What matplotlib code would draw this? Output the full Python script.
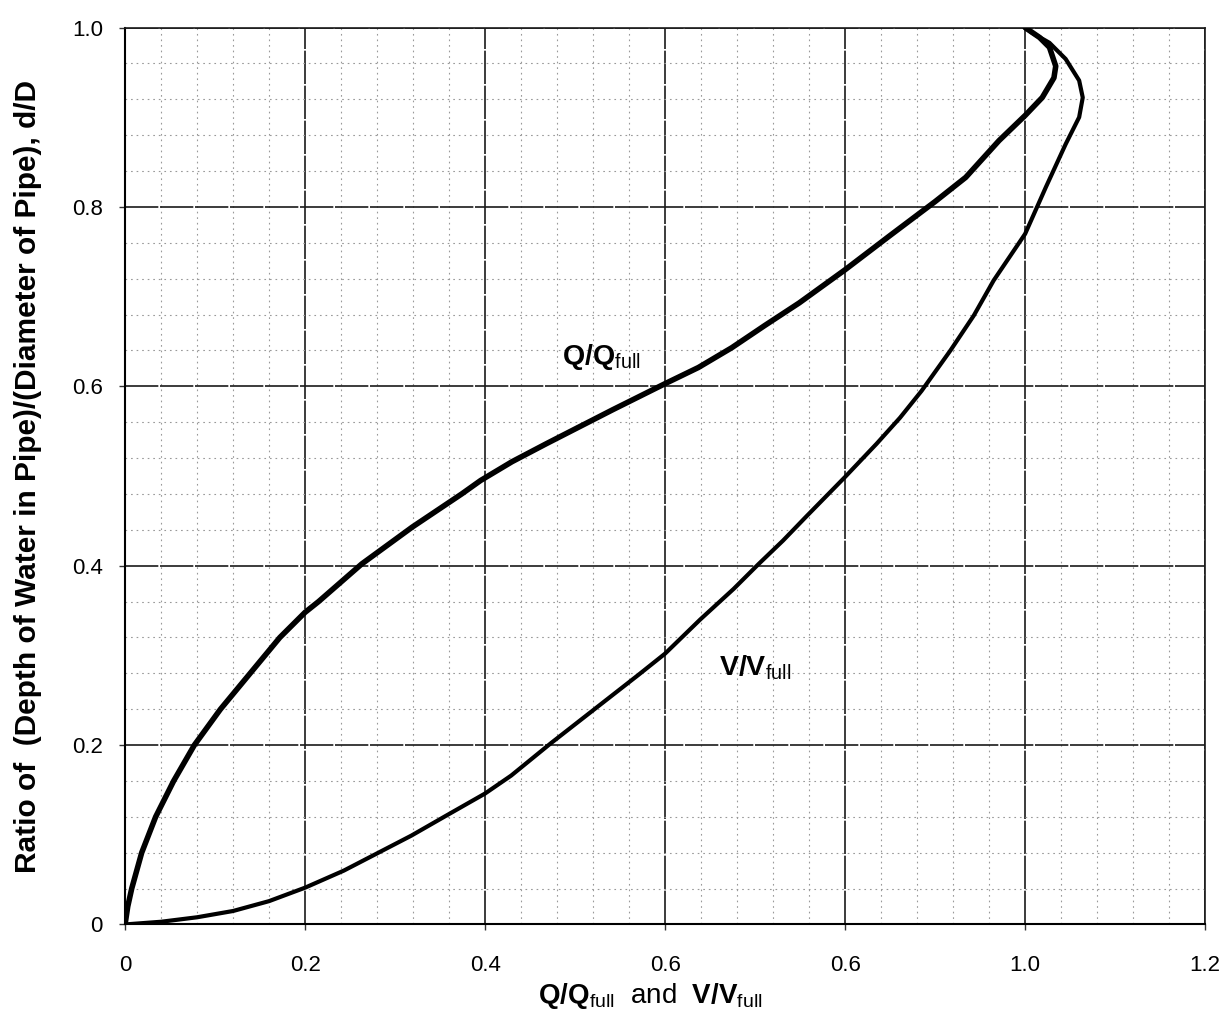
import matplotlib
matplotlib.use("Agg")
import matplotlib.pyplot as plt
from matplotlib.ticker import MultipleLocator

plt.rcParams['font.family'] = ['Liberation Sans', 'DejaVu Sans']
plt.rcParams['mathtext.fontset'] = 'custom'
plt.rcParams['mathtext.rm'] = 'Liberation Sans'
plt.rcParams['mathtext.bf'] = 'Liberation Sans:bold'

# Q/Qfull curve (x) against d/D (y)
q_ratio = [0.0, 0.003, 0.0074, 0.0185, 0.034, 0.054, 0.077, 0.106, 0.139, 0.172,
           0.2, 0.215, 0.263, 0.319, 0.374, 0.395, 0.43, 0.468, 0.505, 0.542,
           0.6, 0.637, 0.674, 0.711, 0.749, 0.8, 0.851, 0.9, 0.934, 0.971,
           1.0, 1.019, 1.032, 1.034, 1.027, 1.016, 1.0]
q_depth = [0.0, 0.02, 0.04, 0.08, 0.12, 0.16, 0.2, 0.24, 0.28, 0.32,
           0.348, 0.36, 0.402, 0.443, 0.48, 0.495, 0.516, 0.536, 0.555, 0.574,
           0.603, 0.621, 0.643, 0.668, 0.693, 0.73, 0.769, 0.806, 0.833, 0.874,
           0.902, 0.922, 0.944, 0.957, 0.978, 0.989, 1.0]

# V/Vfull curve
v_ratio = [0.0, 0.04, 0.08, 0.12, 0.16, 0.2, 0.243, 0.318, 0.358, 0.4,
           0.429, 0.473, 0.57, 0.6, 0.639, 0.676, 0.704, 0.731, 0.757, 0.8,
           0.835, 0.861, 0.885, 0.917, 0.943, 0.965, 1.0, 1.023, 1.045, 1.06,
           1.064, 1.06, 1.045, 1.027, 1.008, 1.0]
v_depth = [0.0, 0.003, 0.008, 0.015, 0.026, 0.041, 0.06, 0.099, 0.122, 0.146,
           0.166, 0.202, 0.278, 0.302, 0.34, 0.374, 0.402, 0.428, 0.455, 0.499,
           0.536, 0.565, 0.595, 0.64, 0.679, 0.718, 0.77, 0.822, 0.87, 0.9,
           0.922, 0.941, 0.965, 0.983, 0.994, 1.0]

x_ticks = [0, 0.2, 0.4, 0.6, 0.8, 1.0, 1.2]
x_tick_labels = ['0', '0.2', '0.4', '0.6', '0.6', '1.0', '1.2']
y_ticks = [0, 0.2, 0.4, 0.6, 0.8, 1.0]
y_tick_labels = ['0', '0.2', '0.4', '0.6', '0.8', '1.0']

fig = plt.figure(figsize=(12.26, 10.10), dpi=100)
ax = fig.add_axes([0.102, 0.0847, 0.881, 0.888])

ax.plot(q_ratio, q_depth, color='black', lw=4.0, solid_capstyle='round',
        solid_joinstyle='round', zorder=5)
ax.plot(v_ratio, v_depth, color='black', lw=3.0, solid_capstyle='round',
        solid_joinstyle='round', zorder=5)

ax.set_xlim(0, 1.2)
ax.set_ylim(0, 1.0)
ax.set_xticks(x_ticks)
ax.set_xticklabels(x_tick_labels)
ax.set_yticks(y_ticks)
ax.set_yticklabels(y_tick_labels)
ax.xaxis.set_minor_locator(MultipleLocator(0.04))
ax.yaxis.set_minor_locator(MultipleLocator(0.04))

ax.grid(which='major', color='#1a1a1a', lw=1.2, ls=(0, (20, 1.0)))
ax.grid(which='minor', color='#999999', lw=0.8, ls=(0, (1.5, 3.5)))
ax.set_axisbelow(True)

for side in ['left', 'bottom']:
    ax.spines[side].set_linewidth(1.5)
for side in ['top', 'right']:
    ax.spines[side].set_linewidth(1.2)
    ax.spines[side].set_linestyle((0, (20, 1.0)))
    ax.spines[side].set_color('#1a1a1a')

ax.tick_params(which='major', length=4, width=1, labelsize=16, color='#333333')
ax.tick_params(which='minor', length=0)
ax.tick_params(axis='x', pad=18)
ax.tick_params(axis='y', pad=12)

ax.set_ylabel('Ratio of  (Depth of Water in Pipe)/(Diameter of Pipe), d/D',
              fontsize=21.5, fontweight='bold')
ax.yaxis.set_label_coords(-0.077, 0.5)

ax.set_xlabel(r'$\mathbf{Q/Q}_{\mathrm{full}}$  and  $\mathbf{V/V}_{\mathrm{full}}$',
              fontsize=20)
ax.xaxis.set_label_coords(0.486, -0.063)

ax.text(0.529, 0.633, r'$\mathbf{Q/Q}_{\mathrm{full}}$', fontsize=20.5,
        ha='center', va='center')
ax.text(0.70, 0.286, r'$\mathbf{V/V}_{\mathrm{full}}$', fontsize=20.5,
        ha='center', va='center')

fig.savefig('out.png', dpi=100)
